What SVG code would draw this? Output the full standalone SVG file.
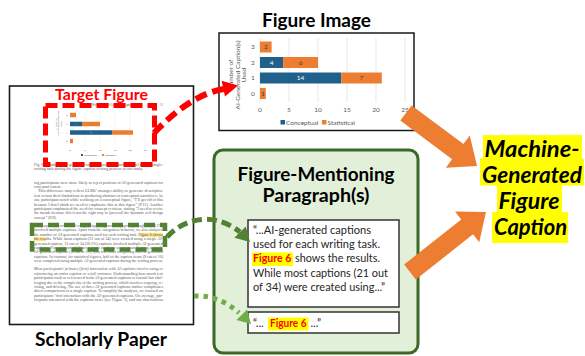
<svg xmlns="http://www.w3.org/2000/svg" width="585" height="356" viewBox="0 0 585 356">
  <style>
    .head { font-family: Lato, "Open Sans", sans-serif; font-weight: 700; fill: #000; }
    .pt { font-family: "Liberation Serif", serif; font-size: 3.5px; fill: #5a5a5a; }
    .it { font-style: italic; }
    .ax { font-family: Lato, "Liberation Sans", sans-serif; font-size: 6.5px; fill: #595959; }
    .axs { font-family: Lato, "Liberation Sans", sans-serif; font-size: 2.6px; fill: #595959; }
    .blue { fill: #20618b; }
    .orange { fill: #ed7d31; }
    .quote { font-family: Lato, "Open Sans", sans-serif; font-size: 12px; fill: #262626; }
    .fig6 { font-family: Lato, "Open Sans", sans-serif; font-weight: 700; font-size: 12px; fill: #ff0000; }
    .small { font-size: 11px; }
    .grid { stroke: #d9d9d9; stroke-width: 0.6; }
    .arrowfill { fill: #ed7d31; }
  </style>

  <rect width="585" height="356" fill="#ffffff"/>

  <!-- Scholarly paper page -->
  <g id="scholarly-paper">
    <rect x="9.5" y="86" width="184" height="238.5" fill="#ffffff" stroke="#1a1a1a" stroke-width="1.6"/>
    <text class="pt" x="84" y="106" style="font-size:3px">Paper Writers Use AI-Generated Captions</text>
    <text class="pt" x="163" y="106" text-anchor="end" style="font-size:3px">11</text>

    <!-- small bar chart on the page -->
    <g id="paper-chart">
      <g class="grid" style="stroke-width:0.3">
        <line x1="85" y1="111" x2="85" y2="146"/>
        <line x1="100" y1="111" x2="100" y2="146"/>
        <line x1="115" y1="111" x2="115" y2="146"/>
        <line x1="130" y1="111" x2="130" y2="146"/>
        <line x1="145" y1="111" x2="145" y2="146"/>
      </g>
      <g transform="translate(56.5,124) rotate(-90)" class="axs" text-anchor="middle" style="font-size:2.4px">
        <text x="0" y="0">Number of</text>
        <text x="0" y="2.8">AI-Generated Caption(s)</text>
        <text x="0" y="5.6">Used</text>
      </g>
      <g class="axs" text-anchor="middle">
        <text x="67" y="116">3</text>
        <text x="67" y="125">2</text>
        <text x="67" y="133.5">1</text>
        <text x="67" y="142">0</text>
      </g>
      <rect class="orange" x="70" y="112.75" width="6" height="4.5"/>
      <rect class="blue" x="70" y="121.75" width="12" height="4.5"/>
      <rect class="orange" x="82" y="121.75" width="18" height="4.5"/>
      <rect class="blue" x="70" y="130.25" width="42" height="4.5"/>
      <rect class="orange" x="112" y="130.25" width="21" height="4.5"/>
      <rect class="orange" x="70" y="138.75" width="3" height="4.5"/>
      <g class="axs" text-anchor="middle" style="font-size:2.2px">
        <text x="73" y="115.8">2</text>
        <text x="76" y="124.8" fill="#ffffff">4</text>
        <text x="91" y="124.8">6</text>
        <text x="91" y="133.3" fill="#ffffff">14</text>
        <text x="122.5" y="133.3">7</text>
        <text x="71.5" y="141.8">1</text>
      </g>
      <g class="axs" text-anchor="middle">
        <text x="70" y="150.5">0</text>
        <text x="85" y="150.5">5</text>
        <text x="100" y="150.5">10</text>
        <text x="115" y="150.5">15</text>
        <text x="130" y="150.5">20</text>
        <text x="145" y="150.5">25</text>
      </g>
      <rect class="blue" x="81" y="154" width="2" height="2"/>
      <text class="axs" x="84" y="156">Conceptual</text>
      <rect class="orange" x="102" y="154" width="2" height="2"/>
      <text class="axs" x="105" y="156">Statistical</text>
    </g>

    <!-- figure caption -->
    <text class="pt" x="34" y="166" textLength="129" lengthAdjust="spacingAndGlyphs">Fig. 6. Number of AI-generated captions used (as a starting point) in each single-</text>
    <text class="pt" x="34" y="170.3" textLength="109" lengthAdjust="spacingAndGlyphs">writing task during the figure caption writing process in our study.</text>

    <!-- body text -->
    <g id="paper-body">
      <text class="pt" x="34" y="184" textLength="129" lengthAdjust="spacingAndGlyphs">ing participants were more likely to reject portions of AI-generated captions for</text>
      <text class="pt" x="34" y="188.4">conceptual content.</text>

      <text class="pt" x="38" y="192.3" textLength="125" lengthAdjust="spacingAndGlyphs">This difference may reflect LLMs’ stronger ability to generate descriptive</text>
      <text class="pt" x="34" y="196.7" textLength="129" lengthAdjust="spacingAndGlyphs">text versus their limitations in producing abstract or conceptual narratives. As</text>
      <text class="pt" x="34" y="201.1" textLength="129" lengthAdjust="spacingAndGlyphs">one participant noted while working on a conceptual figure, “I’ll get rid of this</text>
      <text class="pt" x="34" y="205.5" textLength="129" lengthAdjust="spacingAndGlyphs">because I don’t think we need to emphasize this in this figure” (P11). Another</text>
      <text class="pt" x="34" y="209.9" textLength="129" lengthAdjust="spacingAndGlyphs">participant emphasized the need for concept revision, stating “I need to revise</text>
      <text class="pt" x="34" y="214.3" textLength="129" lengthAdjust="spacingAndGlyphs">the facade because this is not the right way to [present] the dynamic self-design</text>
      <text class="pt" x="34" y="218.7">concept.” (P28).</text>

      <rect x="139.5" y="232.8" width="23.5" height="4" fill="#ffe27a"/>
      <rect x="33.5" y="237.2" width="12.5" height="4" fill="#ffe27a"/>
      <text class="pt" x="34" y="227" textLength="129" lengthAdjust="spacingAndGlyphs"><tspan class="it">Most captions were created using a single AI-generated caption,</tspan> though 13 (38.2%)</text>
      <text class="pt" x="34" y="231.4" textLength="129" lengthAdjust="spacingAndGlyphs">involved multiple captions. Apart from the integration behavior, we also analyzed</text>
      <text class="pt" x="34" y="235.8" textLength="129" lengthAdjust="spacingAndGlyphs">the number of AI-generated captions used for each writing task. Figure 6 shows</text>
      <text class="pt" x="34" y="240.2" textLength="129" lengthAdjust="spacingAndGlyphs">the results. While most captions (21 out of 34) were created using a single AI-</text>
      <text class="pt" x="34" y="244.6" textLength="129" lengthAdjust="spacingAndGlyphs">generated caption, 13 out of 34 (38.2%) captions involved multiple AI-generated</text>
      <text class="pt" x="34" y="249" textLength="129" lengthAdjust="spacingAndGlyphs">captions. For conceptual figures, most captions were created using a single</text>
      <text class="pt" x="34" y="253.4" textLength="129" lengthAdjust="spacingAndGlyphs">AI-generated caption (10 out of 19), with few cases integrating two AI-generated</text>
      <text class="pt" x="34" y="257.8" textLength="129" lengthAdjust="spacingAndGlyphs">captions. In contrast, for statistical figures, half of the caption items (8 out of 16)</text>
      <text class="pt" x="34" y="262.2" textLength="129" lengthAdjust="spacingAndGlyphs">were completed using multiple AI-generated captions during the writing process.</text>

      <text class="pt" x="34" y="270.3" textLength="129" lengthAdjust="spacingAndGlyphs"><tspan class="it">Most participants’ primary (first) interaction with AI captions involve using or</tspan></text>
      <text class="pt" x="34" y="274.7" textLength="129" lengthAdjust="spacingAndGlyphs"><tspan class="it">referencing an entire caption or a full sentence.</tspan> Understanding how much text</text>
      <text class="pt" x="34" y="279.1" textLength="129" lengthAdjust="spacingAndGlyphs">participants took or referenced from AI-generated captions is crucial but chal-</text>
      <text class="pt" x="34" y="283.5" textLength="129" lengthAdjust="spacingAndGlyphs">lenging due to the complexity of the writing process, which involves copying, re-</text>
      <text class="pt" x="34" y="287.9" textLength="129" lengthAdjust="spacingAndGlyphs">vising, and deleting. The use of three AI-generated captions further complicates</text>
      <text class="pt" x="34" y="292.3" textLength="129" lengthAdjust="spacingAndGlyphs">direct comparisons to a single caption. To simplify the analysis, we focused on</text>
      <text class="pt" x="34" y="296.7" textLength="129" lengthAdjust="spacingAndGlyphs">participants’ first interaction with the AI-generated captions. On average, par-</text>
      <text class="pt" x="34" y="301.1" textLength="129" lengthAdjust="spacingAndGlyphs">ticipants interacted with the captions twice (see Figure 3), and our observations</text>
    </g>

    <text class="head" x="101" y="346" text-anchor="middle" font-size="19" textLength="132" lengthAdjust="spacingAndGlyphs">Scholarly Paper</text>
  </g>

  <!-- Target figure highlight on the page -->
  <g id="target-figure">
    <rect x="45.5" y="105.5" width="109" height="59" fill="none" stroke="#ff0000" stroke-width="5" stroke-dasharray="12 5"/>
    <text class="head" x="101.5" y="99.5" text-anchor="middle" font-size="16" style="fill:#ff0000" textLength="93" lengthAdjust="spacingAndGlyphs">Target Figure</text>
  </g>

  <!-- mentioning paragraph highlight on the page -->
  <g id="mention-highlight">
    <rect x="32" y="225" width="133" height="24.5" fill="none" stroke="#548235" stroke-width="4.5" stroke-dasharray="11 5"/>
  </g>

  <!-- Figure image -->
  <g id="figure-image">
    <text class="head" x="316.5" y="27" text-anchor="middle" font-size="19" textLength="109" lengthAdjust="spacingAndGlyphs">Figure Image</text>
    <rect x="219" y="33" width="195" height="97.5" fill="#ffffff" stroke="#1a1a1a" stroke-width="1.5"/>
    <g class="grid">
      <line x1="260" y1="38" x2="260" y2="102"/>
      <line x1="289" y1="38" x2="289" y2="102"/>
      <line x1="318" y1="38" x2="318" y2="102"/>
      <line x1="347" y1="38" x2="347" y2="102"/>
      <line x1="376" y1="38" x2="376" y2="102"/>
      <line x1="405" y1="38" x2="405" y2="102"/>
    </g>
    <g transform="translate(233,75) rotate(-90)" class="ax" text-anchor="middle">
      <text x="0" y="0">Number of</text>
      <text x="0" y="6.5">AI-Generated Caption(s)</text>
      <text x="0" y="13">Used</text>
    </g>
    <g class="ax" text-anchor="middle">
      <text x="253" y="49.3">3</text>
      <text x="253" y="64.8">2</text>
      <text x="253" y="80.3">1</text>
      <text x="253" y="95.8">0</text>
    </g>
    <rect class="orange" x="260" y="41.5" width="11.6" height="11"/>
    <rect class="blue" x="260" y="57" width="23.2" height="11"/>
    <rect class="orange" x="283.2" y="57" width="34.8" height="11"/>
    <rect class="blue" x="260" y="72.5" width="81.2" height="11"/>
    <rect class="orange" x="341.2" y="72.5" width="40.6" height="11"/>
    <rect class="orange" x="260" y="88" width="5.8" height="11"/>
    <g class="ax" text-anchor="middle">
      <text x="265.8" y="49.3" fill="#404040">2</text>
      <text x="271.6" y="64.8" fill="#ffffff">4</text>
      <text x="300.6" y="64.8" fill="#404040">6</text>
      <text x="300.6" y="80.3" fill="#ffffff">14</text>
      <text x="361.5" y="80.3" fill="#404040">7</text>
      <text x="262.9" y="95.8" fill="#404040">1</text>
    </g>
    <g class="ax" text-anchor="middle">
      <text x="260" y="112">0</text>
      <text x="289" y="112">5</text>
      <text x="318" y="112">10</text>
      <text x="347" y="112">15</text>
      <text x="376" y="112">20</text>
      <text x="405" y="112">25</text>
    </g>
    <rect class="blue" x="280.5" y="120" width="4.5" height="4.5"/>
    <text class="ax" x="286" y="124.5">Conceptual</text>
    <rect class="orange" x="322" y="120" width="4.5" height="4.5"/>
    <text class="ax" x="327.5" y="124.5">Statistical</text>
  </g>

  <!-- Figure-mentioning paragraphs -->
  <g id="figure-mentioning-paragraphs">
    <rect x="214" y="150" width="204" height="203" rx="9" fill="#e2efd9" stroke="#3b6a26" stroke-width="3"/>
    <text class="head" x="316" y="181" text-anchor="middle" font-size="19" textLength="157" lengthAdjust="spacingAndGlyphs">Figure-Mentioning</text>
    <text class="head" x="316" y="202" text-anchor="middle" font-size="19" textLength="107" lengthAdjust="spacingAndGlyphs">Paragraph(s)</text>

    <g id="paragraph-1">
      <rect x="248" y="220" width="151" height="87" fill="#ffffff" stroke="#333333" stroke-width="1.5"/>
      <text class="quote" x="253" y="234" textLength="118" lengthAdjust="spacingAndGlyphs">“...AI-generated captions</text>
      <text class="quote" x="253" y="248.2" textLength="127" lengthAdjust="spacingAndGlyphs">used for each writing task.</text>
      <rect x="252" y="252.5" width="41" height="13.5" fill="#ffff00"/>
      <text class="fig6" x="253" y="262.4" textLength="38.5" lengthAdjust="spacingAndGlyphs">Figure 6</text>
      <text class="quote" x="295" y="262.4" textLength="85" lengthAdjust="spacingAndGlyphs">shows the results.</text>
      <text class="quote" x="253" y="276.6" textLength="135" lengthAdjust="spacingAndGlyphs">While most captions (21 out</text>
      <text class="quote" x="253" y="290.8" textLength="132" lengthAdjust="spacingAndGlyphs">of 34) were created using...”</text>
    </g>

    <g id="paragraph-2">
      <rect x="248" y="312" width="151" height="21" fill="#ffffff" stroke="#333333" stroke-width="1.5"/>
      <text class="quote small" x="253" y="326.8">“...</text>
      <rect x="268" y="317.5" width="40.5" height="13" fill="#ffff00"/>
      <text class="fig6 small" x="270" y="326.8" textLength="36.5" lengthAdjust="spacingAndGlyphs">Figure 6</text>
      <text class="quote small" x="310.5" y="326.8">...”</text>
    </g>
  </g>

  <!-- Machine-generated caption -->
  <g id="machine-generated-caption">
    <rect x="483" y="135" width="99" height="24" fill="#ffff00"/>
    <rect x="480" y="158.5" width="104" height="27" fill="#ffff00"/>
    <rect x="497" y="185" width="65" height="27.5" fill="#ffff00"/>
    <rect x="492" y="212" width="76" height="31" fill="#ffff00"/>
    <g class="head it" text-anchor="middle" font-size="22">
      <text x="532" y="157" textLength="95" lengthAdjust="spacingAndGlyphs">Machine-</text>
      <text x="532" y="183" textLength="100" lengthAdjust="spacingAndGlyphs">Generated</text>
      <text x="529" y="209" textLength="61" lengthAdjust="spacingAndGlyphs">Figure</text>
      <text x="530.5" y="235" textLength="73" lengthAdjust="spacingAndGlyphs">Caption</text>
    </g>
  </g>

  <!-- Connectors -->
  <g id="connectors">
    <!-- target figure to figure image -->
    <path d="M154,133 C174,112 198,93 224,89" fill="none" stroke="#ff0000" stroke-width="6" stroke-dasharray="12 6"/>
    <polygon points="221.6,80.8 238,85.5 225,96.4" fill="#ff0000"/>

    <!-- highlighted paragraph to first quoted paragraph -->
    <path d="M167,237 C182,220 212,210 240,232" fill="none" stroke="#548235" stroke-width="5" stroke-dasharray="10 5"/>
    <polygon points="234.4,237.8 250,242 245.8,226.4" fill="#548235"/>

    <!-- page to brief mention -->
    <path d="M194,296 C210,295 226,301 239,313" fill="none" stroke="#70ad47" stroke-width="5" stroke-dasharray="4.5 5"/>
    <polygon points="236.5,320.1 251,324 247.1,309.5" fill="#70ad47"/>

    <!-- inputs to the generated caption -->
    <polygon class="arrowfill" transform="translate(406,113) rotate(36.7)" points="0,-9.5 64.6,-9.5 64.6,-20 88.6,0 64.6,20 64.6,9.5 0,9.5"/>
    <polygon class="arrowfill" transform="translate(410,272) rotate(-38.3)" points="0,-9.5 72.8,-9.5 72.8,-19.5 96.8,0 72.8,19.5 72.8,9.5 0,9.5"/>
  </g>
</svg>
